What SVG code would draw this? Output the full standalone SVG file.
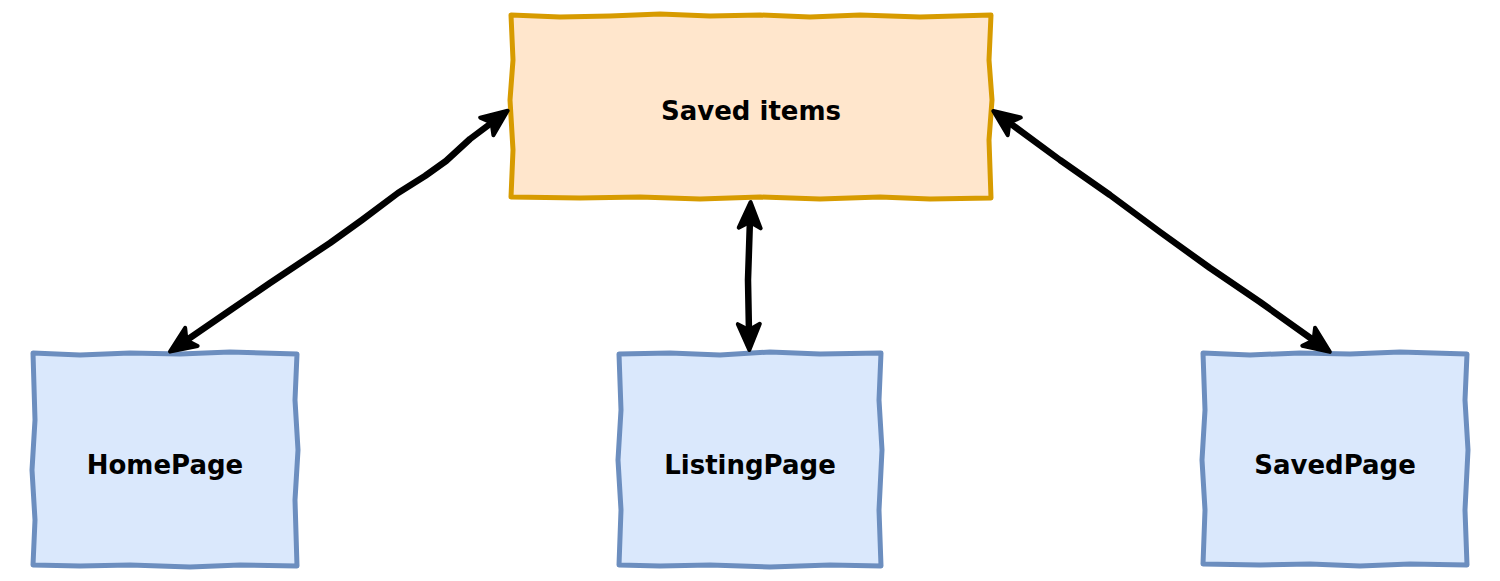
<svg xmlns="http://www.w3.org/2000/svg" width="1500" height="581" viewBox="0 0 1500 581">
<style>
.orange{fill:#ffe6cc;stroke:#d79b00;stroke-width:5;stroke-linejoin:round}
.blue{fill:#dae8fc;stroke:#6c8ebf;stroke-width:5;stroke-linejoin:round}
.lbl{font-family:"Comic Sans MS","DejaVu Sans",sans-serif;font-weight:bold;font-size:26px;fill:#000;text-anchor:middle}
.edge{fill:none;stroke:#000;stroke-width:6.5;stroke-linejoin:round;stroke-linecap:butt}
</style>
<defs>
<marker id="ah" markerUnits="userSpaceOnUse" viewBox="-34 -17 38 34" markerWidth="38" markerHeight="34" refX="-17" refY="0" orient="auto-start-reverse" overflow="visible">
<path d="M0,0 L-26,-11 L-20,0 L-26,11 Z" fill="#000" stroke="#000" stroke-width="4" stroke-linejoin="round"/>
</marker>
</defs>
<rect width="1500" height="581" fill="#fff"/>
<g id="saved-items">
<path class="orange" d="M511,15 L560,17 L610,16 L660,14 L710,16 L760,15 L810,17 L860,15 L920,17 L991,15 L989,60 L992,100 L989,140 L991,198 L930,199 L880,197 L820,199 L760,197 L700,199 L640,197 L580,198 L511,197 L513,150 L510,100 L513,60 Z"/>
<text class="lbl" x="751" y="120">Saved items</text>
</g>
<g id="homepage">
<path class="blue" d="M33,353 L80,355 L130,353 L180,354 L230,352 L297,354 L295,400 L298,450 L295,500 L297,566 L240,565 L190,567 L130,565 L80,566 L33,565 L35,520 L32,470 L35,420 Z"/>
<text class="lbl" x="165" y="474">HomePage</text>
</g>
<g id="listingpage">
<path class="blue" d="M619,354 L670,353 L720,355 L770,352 L820,354 L881,353 L879,400 L882,450 L879,510 L881,566 L830,565 L770,567 L710,565 L660,566 L619,565 L621,510 L618,460 L621,410 Z"/>
<text class="lbl" x="750" y="474">ListingPage</text>
</g>
<g id="savedpage">
<path class="blue" d="M1203,353 L1250,355 L1300,353 L1350,354 L1400,352 L1467,354 L1465,400 L1468,450 L1465,510 L1467,565 L1410,564 L1360,566 L1310,564 L1260,565 L1203,564 L1205,510 L1202,460 L1205,410 Z"/>
<text class="lbl" x="1335" y="474">SavedPage</text>
</g>
<g id="connectors">
<path class="edge" marker-start="url(#ah)" marker-end="url(#ah)" d="M184,342 L232,309 L270,283 L300,263 L330,243 L362,220 L398,193 L425,176 L446,161 L470,139 L494,121"/>
<path class="edge" marker-start="url(#ah)" marker-end="url(#ah)" d="M750,219 L748,280 L749,333"/>
<path class="edge" marker-start="url(#ah)" marker-end="url(#ah)" d="M1007,121 L1060,160 L1110,195 L1160,232 L1210,268 L1260,302 L1316,342"/>
</g>
</svg>
